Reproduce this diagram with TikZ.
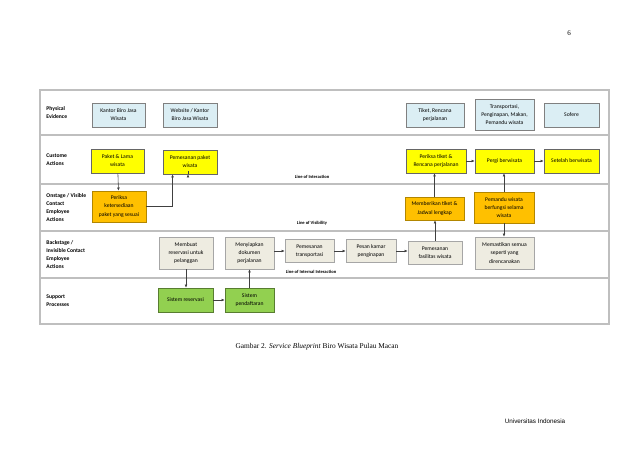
\documentclass[tikz,border=0pt]{standalone}
\usepackage{fontspec}
\setmainfont{Liberation Serif}
\newfontfamily\calibri{Carlito}
\newfontfamily\arial{Liberation Sans}
\usetikzlibrary{positioning,arrows.meta,calc}
\definecolor{garis}{HTML}{BFBFBF}
\definecolor{biru}{HTML}{DBEEF4}
\definecolor{kuning}{HTML}{FFFF00}
\definecolor{oranye}{HTML}{FFC000}
\definecolor{abu}{HTML}{EEECE1}
\definecolor{hijau}{HTML}{92D050}
\definecolor{panah}{HTML}{404040}

\begin{document}
\begin{tikzpicture}[x=0.5mm, y=-0.5mm,
  lajur/.style={draw=garis, line width=1.6pt},
  kotak/.style={rectangle, line width=0.8pt, inner sep=1pt, align=center,
                minimum width=27mm, minimum height=12mm,
                font=\calibri\fontsize{8}{11.5}\selectfont},
  fisik/.style={kotak, fill=biru, draw=gray},
  pelanggan/.style={kotak, fill=kuning, draw=gray!80!black},
  depan/.style={kotak, fill=oranye, draw=oranye!70!black},
  belakang/.style={kotak, fill=abu, draw=gray!70},
  dukung/.style={kotak, fill=hijau, draw=hijau!60!black},
  judul/.style={anchor=west, align=left, font=\calibri\bfseries\fontsize{8}{11}\selectfont},
  batas/.style={font=\calibri\bfseries\fontsize{6.5}{8}\selectfont},
  arr/.style={-{Latex[length=1.6mm, width=1.4mm]}, line width=0.8pt, color=panah}
]
\useasboundingbox[fill=white] (0,0) rectangle (638,451);

% lajur blueprint
\draw[lajur] (40,90) rectangle (609,324);
\foreach \y in {135,184,231,278}
  \draw[lajur] (40,\y) -- (609,\y);

\node[judul] (jpe) at (44,112.5) {Physical\\Evidence};
\node[judul] (jca) at (44,159.5) {Custome\\Actions};
\node[judul] (jon) at (44,207.5) {Onstage / Visible\\Contact\\Employee\\Actions};
\node[judul] (jba) at (44,254.5) {Backstage /\\Invisible Contact\\Employee\\Actions};
\node[judul] (jsp) at (44,301) {Support\\Processes};

\node[batas] (loi) at (312,177) {Line of Interaction};
\node[batas] (lov) at (312,223) {Line of Visibility};
\node[batas] (lii) at (311,272) {Line of Internal Interaction};

% physical evidence
\node[fisik, minimum width=26.5mm] (kantor) at (118.5,115) {Kantor Biro Jasa\\Wisata};
\node[fisik] (web) at (190,115) {Website / Kantor\\Biro Jasa Wisata};
\node[fisik, minimum width=29mm] (tiket) at (435,115) {Tiket, Rencana\\perjalanan};
\node[fisik, minimum width=29.5mm, minimum height=15.5mm] (trans) at (504.5,114.5) {Transportasi,\\Penginapan, Makan,\\Pemandu wisata};
\node[fisik, minimum width=27.5mm] (sofere) at (571.5,115) {Sofere};

% customer actions
\node[pelanggan, minimum width=26.5mm] (paket) at (117.5,161) {Paket \& Lama\\wisata};
\node[pelanggan] (pesan) at (190,162) {Pemesanan paket\\wisata};
\node[pelanggan, minimum width=30mm] (cektiket) at (436,161) {Periksa tiket \&\\Rencana perjalanan};
\node[pelanggan, minimum width=29.5mm] (pergi) at (504.5,161) {Pergi berwisata};
\node[pelanggan, minimum width=27.5mm] (setelah) at (571.5,161) {Setelah berwisata};

% onstage
\node[depan, minimum height=15.5mm] (cekpaket) at (119,206.5) {Periksa\\ketersediaan\\paket yang sesuai};
\node[depan, minimum width=29.5mm, minimum height=11.5mm] (beri) at (434.5,208.5) {Memberikan tiket \&\\Jadwal lengkap};
\node[depan, minimum width=30mm, minimum height=15.5mm] (pandu) at (504,207.5) {Pemandu wisata\\berfungsi selama\\wisata};

% backstage
\node[belakang, minimum height=16mm] (buat) at (186,253) {Membuat\\reservasi untuk\\pelanggan};
\node[belakang, minimum width=24.5mm, minimum height=16mm] (siap) at (249.5,253) {Menyiapkan\\dokumen\\perjalanan};
\node[belakang, minimum width=24.5mm, minimum height=11.5mm] (pestrans) at (309.5,251) {Pemesanan\\transportasi};
\node[belakang, minimum width=25mm, minimum height=11.5mm] (kamar) at (371,251) {Pesan kamar\\penginapan};
\node[belakang, minimum height=11.5mm] (fasilitas) at (435,252.5) {Pemesanan\\fasilitas wisata};
\node[belakang, minimum width=29.5mm, minimum height=16mm] (pasti) at (504.5,253) {Memastikan semua\\seperti yang\\direncanakan};

% support
\node[dukung, minimum width=27.5mm] (sisres) at (185.5,300) {Sistem reservasi};
\node[dukung, minimum width=24.5mm] (sisdaf) at (249.5,300) {Sistem\\pendaftaran};

% alur
\draw[arr] (paket) -- (cekpaket);
\draw[arr] (cekpaket.east) -| ($(pesan.south west)!0.18!(pesan.south east)$);
\draw[arr] ($(pesan.south)+(-2,0)$) -- ($(pesan.south)+(-2,0)$ |- buat.north);
\draw[arr] (buat.south) -- (buat.south |- sisres.north);
\draw[arr] (sisres) -- (sisdaf);
\draw[arr] (sisdaf.north) -- (sisdaf.north |- siap.south);
\draw[arr] (siap.east |- pestrans) -- (pestrans);
\draw[arr] (pestrans) -- (kamar);
\draw[arr] (kamar) -- (kamar -| fasilitas.west);
\draw[arr] (fasilitas.north) -- (fasilitas.north |- beri.south);
\draw[arr] (beri.north) -- (beri.north |- cektiket.south);
\draw[arr] (cektiket) -- (pergi);
\draw[arr] (pergi) -- (setelah);
\draw[arr] (pandu.north) -- (pandu.north |- pergi.south);
\draw[arr] (pandu.south) -- (pandu.south |- pasti.north);

% teks halaman
\node[font=\fontsize{10.5}{12}\selectfont] (caption) at (317,346.5) {Gambar 2. \textit{Service Blueprint} Biro Wisata Pulau Macan};
\node[font=\fontsize{10}{12}\selectfont] (hal) at (569,33) {6};
\node[font=\arial\fontsize{9}{11}\selectfont] (univ) at (535,421) {Universitas Indonesia};
\end{tikzpicture}
\end{document}
